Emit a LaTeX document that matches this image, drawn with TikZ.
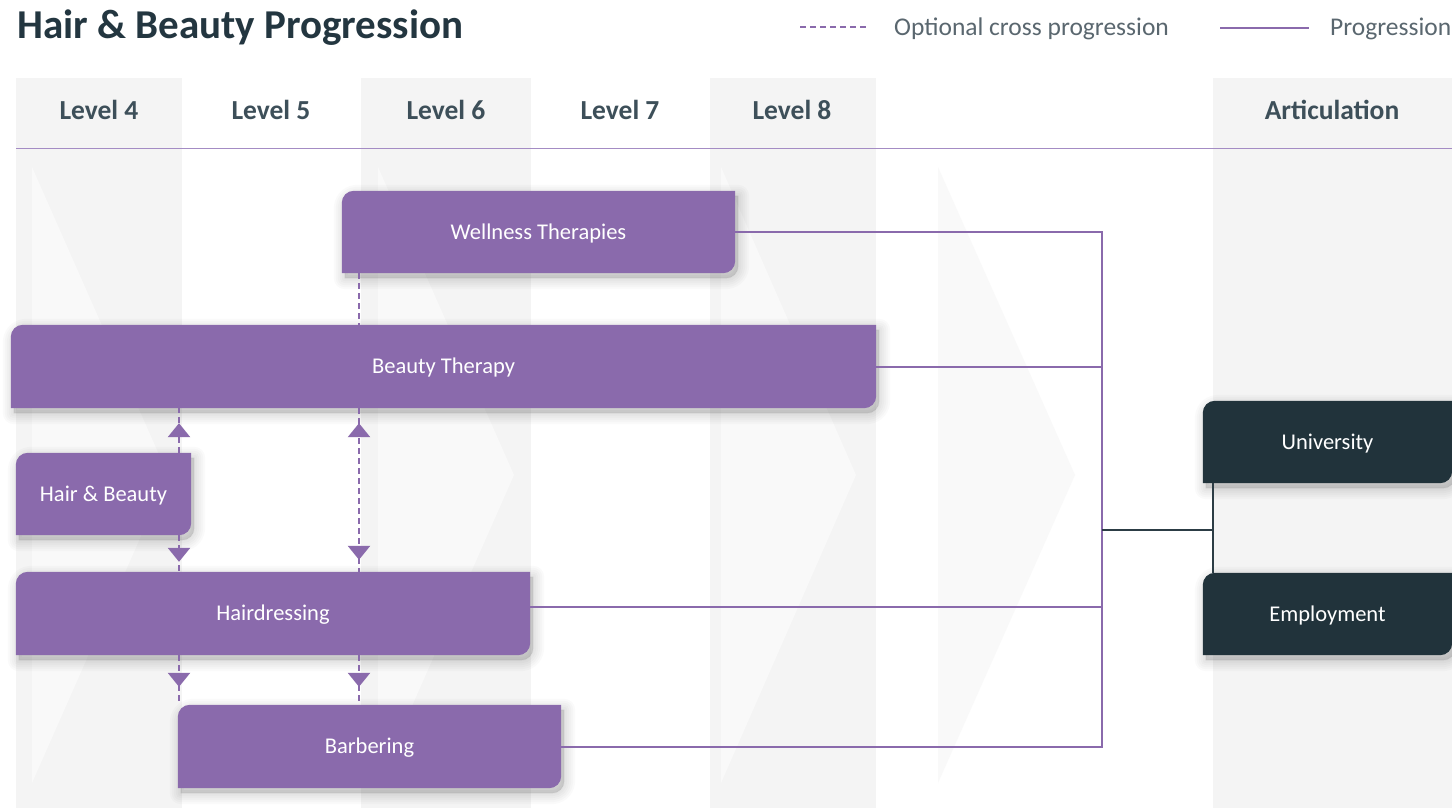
\documentclass[tikz,border=0pt]{standalone}
\usepackage{fontspec}
\setmainfont{Carlito}
\usetikzlibrary{calc,arrows.meta,decorations.markings}
\definecolor{purp}{HTML}{8A6AAC}
\definecolor{dark}{HTML}{21333B}
\definecolor{darkline}{HTML}{2C3D45}
\definecolor{band}{HTML}{F4F4F4}
\definecolor{chev}{HTML}{F9F9F9}
\definecolor{titlec}{HTML}{233640}
\definecolor{headc}{HTML}{3D4F59}
\definecolor{legc}{HTML}{5A676F}
\definecolor{rulec}{HTML}{A48CC4}
\pgfdeclarelayer{bg}\pgfdeclarelayer{shapes}\pgfsetlayers{bg,shapes,main}
\newcommand{\boxpath}[1]{(#1.south west) -- ($(#1.north west)+(0,12)$) .. controls ($(#1.north west)+(0,5.4)$) and ($(#1.north west)+(5.4,0)$) .. ($(#1.north west)+(12,0)$)
 -- (#1.north east) -- ($(#1.south east)+(0,-12)$) .. controls ($(#1.south east)+(0,-5.4)$) and ($(#1.south east)+(-5.4,0)$) .. ($(#1.south east)+(-12,0)$) -- cycle}
\newcommand{\boxfill}[2]{%
 \begin{pgfonlayer}{shapes}
 \begin{scope}[transform canvas={xshift=3pt,yshift=-5pt}]
 \foreach \w in {22,18,14,10,6,2} {\filldraw[black, opacity=0.018, line width=\w pt, line join=round] \boxpath{#1};}
 \end{scope}
 \fill[#2] \boxpath{#1};
 \end{pgfonlayer}}
\tikzset{
 box/.style={text=white, font=\fontsize{22.5}{26}\selectfont, inner sep=0pt, text height=14.5pt, text depth=0pt, align=center},
 head/.style={text=headc, font=\fontsize{27.5}{32}\selectfont\bfseries, anchor=base},
 leg/.style={text=legc, font=\fontsize{25.5}{30}\selectfont, anchor=base west},
 prog/.style={purp, line width=2pt},
 artl/.style={darkline, line width=2.2pt},
 opt/.style={purp, line width=2.6pt, dash pattern=on 6pt off 4pt},
 tri/.tip={Triangle[length=14pt,width=22pt]},
 tipend/.style={postaction={decorate, solid, decoration={markings, mark=at position -#1 with {\arrow{tri}}}}},
 tipstart/.style={postaction={decorate, solid, decoration={markings, mark=at position #1 with {\arrowreversed{tri}}}}},
}
\begin{document}
\begin{tikzpicture}[x=1pt,y=-1pt]
\useasboundingbox (0,0) rectangle (1452,808);
\begin{pgfonlayer}{bg}
\fill[white] (0,0) rectangle (1452,808);
\fill[band] (16,78) rectangle (182,808);
\fill[band] (361,78) rectangle (531,808);
\fill[band] (710,78) rectangle (876,808);
\fill[band] (1213,78) rectangle (1452,808);
\fill[chev] (32,167) -- (168,475) -- (32,783) -- cycle;
\fill[chev] (378,167) -- (514,475) -- (378,783) -- cycle;
\fill[chev] (721,167) -- (856,475) -- (721,783) -- cycle;
\fill[chev] (938,167) -- (1075,475) -- (938,783) -- cycle;
\draw[rulec, line width=1pt] (16,148) -- (1452,148);
\end{pgfonlayer}

% title and legend
\node[anchor=base west, text=titlec, font=\fontsize{41}{46}\selectfont\bfseries, inner sep=0pt] (title) at (17,39) {Hair \& Beauty Progression};
\node[leg, inner sep=0pt] (lg1) at (894,36) {Optional cross progression};
\node[leg, inner sep=0pt] (lg2) at (1330,36) {Progression};
\draw[opt] (800,27) -- (868,27);
\draw[prog] (1220,28) -- (1309,28);

% headers
\node[head] (h4) at (99,119) {Level 4};
\node[head] (h5) at (271,119) {Level 5};
\node[head] (h6) at (446,119) {Level 6};
\node[head] (h7) at (620,119) {Level 7};
\node[head] (h8) at (792,119) {Level 8};
\node[head] (ha) at (1332,119) {Articulation};

% boxes
\node[box, minimum width=393pt, minimum height=82pt] (wt) at (538.5,232) {Wellness Therapies};
\node[box, minimum width=865pt, minimum height=83pt] (bt) at (443.5,366.5) {Beauty Therapy};
\node[box, minimum width=175pt, minimum height=82pt] (hb) at (103.5,494) {Hair \& Beauty};
\node[box, minimum width=514pt, minimum height=83pt] (hd) at (273,613.5) {Hairdressing};
\node[box, minimum width=383pt, minimum height=83pt] (bb) at (369.5,746.5) {Barbering};
\node[box, minimum width=249pt, minimum height=82pt] (uni) at (1327.5,442) {University};
\node[box, minimum width=249pt, minimum height=82pt] (emp) at (1327.5,614) {Employment};
\boxfill{wt}{purp}
\boxfill{bt}{purp}
\boxfill{hb}{purp}
\boxfill{hd}{purp}
\boxfill{bb}{purp}
\boxfill{uni}{dark}
\boxfill{emp}{dark}

% progression connectors
\coordinate (bus) at (1102,530);
\coordinate (art) at (1213,530);
\draw[prog] (wt.east) -| (bus);
\draw[prog] (bt.east) -| (bus);
\draw[prog] ($(hd.east)+(0,-7)$) -| (bus);
\draw[prog] (bb.east) -| (bus);
\draw[artl] (bus) -- (art);
\draw[artl] (uni.south -| art) -- (emp.north -| art);

% optional cross progression
\coordinate (c1) at (179,0);
\coordinate (c2) at (359,0);
\draw[opt] (wt.south -| c2) -- (bt.north -| c2);
\draw[opt, tipend=15pt] (hb.north -| c1) -- (bt.south -| c1);
\draw[opt, tipend=10pt] (hb.south -| c1) -- (hd.north -| c1);
\draw[opt, tipstart=15pt, tipend=12pt] (bt.south -| c2) -- (hd.north -| c2);
\draw[opt, tipend=18pt] (hd.south -| c1) -- (bb.north -| c1);
\draw[opt, tipend=18pt] (hd.south -| c2) -- (bb.north -| c2);
\end{tikzpicture}
\end{document}
